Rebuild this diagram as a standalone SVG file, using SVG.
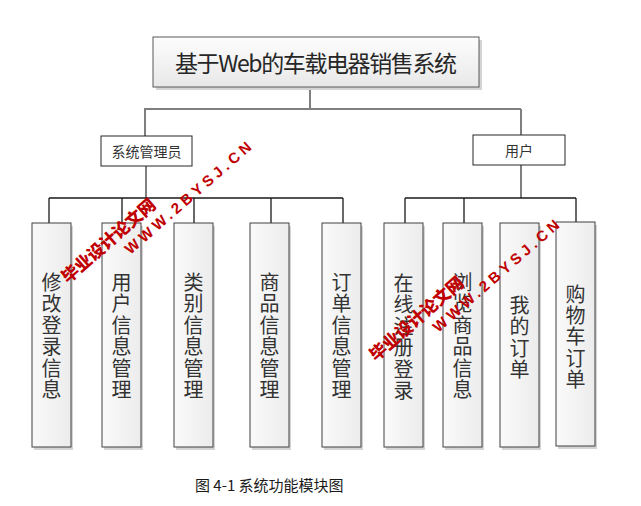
<svg xmlns="http://www.w3.org/2000/svg" width="641" height="506" viewBox="0 0 641 506">
<defs>
<linearGradient id="g" x1="0" y1="0" x2="0" y2="1">
<stop offset="0" stop-color="#fdfdfd"/>
<stop offset="1" stop-color="#e8e8e8"/>
</linearGradient>
<linearGradient id="gc" x1="0" y1="0" x2="1" y2="0">
<stop offset="0" stop-color="#fafafa"/>
<stop offset="1" stop-color="#ececec"/>
</linearGradient>
</defs>
<style>
.sh{fill:#d4d4d4}
.box{fill:url(#gc);stroke:#404040;stroke-width:1}
.tbox{fill:url(#g);stroke:#595959;stroke-width:1}
.mbox{fill:#ffffff;stroke:#262626;stroke-width:1}
.up{fill:none;stroke:#7f7f7f;stroke-width:2}
.lo{fill:none;stroke:#1a1a1a;stroke-width:1.3}
.vt{font-family:"Noto Sans CJK SC","Noto Sans",sans-serif;font-size:20px;fill:#333333;text-anchor:middle;dominant-baseline:central}
.mt{font-family:"Noto Sans CJK SC","Noto Sans",sans-serif;font-size:14px;fill:#333333;text-anchor:middle;dominant-baseline:central}
.wm1{font-family:"Noto Sans CJK SC","Liberation Sans",sans-serif;font-size:17px;font-weight:900;fill:#c00000}
.wm2{font-family:"Liberation Sans","Noto Sans CJK SC",sans-serif;font-size:15px;font-weight:bold;fill:#c00000}
</style>
<rect width="641" height="506" fill="#ffffff"/>

<g id="connectors">
<path class="up" d="M310 87V109M144 109H521M145 109V136M521 109V135M146 166V198M521 165V198"/>
<path class="lo" d="M49 198H343M49 198V223M122 198V223M194 198V223M271 198V223M343 198V223M405 198H576M405 198V223M464 198V223M576 198V222"/>
</g>

<g id="title">
<rect class="sh" x="156" y="40" width="326" height="50"/>
<rect class="tbox" x="153" y="37" width="326" height="50"/>
<text x="316" y="62" font-family="Noto Sans CJK SC,Noto Sans,sans-serif" font-size="23" fill="#262626" text-anchor="middle" dominant-baseline="central" textLength="282" lengthAdjust="spacing">基于Web的车载电器销售系统</text>
</g>

<g id="admin">
<rect class="mbox" x="101" y="136" width="91" height="30"/>
<text class="mt" x="146.5" y="151">系统管理员</text>
</g>
<g id="user">
<rect class="mbox" x="473" y="135" width="92" height="30"/>
<text class="mt" x="519" y="150">用户</text>
</g>

<g id="n1">
<rect class="sh" x="34" y="226" width="39" height="224"/>
<rect class="box" x="32" y="223" width="39" height="224"/>
<text class="vt"><tspan x="51.5" y="281">修</tspan><tspan x="51.5" y="302.4">改</tspan><tspan x="51.5" y="323.8">登</tspan><tspan x="51.5" y="345.2">录</tspan><tspan x="51.5" y="366.6">信</tspan><tspan x="51.5" y="388">息</tspan></text>
</g>
<g id="n2">
<rect class="sh" x="104" y="226" width="39" height="224"/>
<rect class="box" x="102" y="223" width="39" height="224"/>
<text class="vt"><tspan x="121.5" y="281">用</tspan><tspan x="121.5" y="302.4">户</tspan><tspan x="121.5" y="323.8">信</tspan><tspan x="121.5" y="345.2">息</tspan><tspan x="121.5" y="366.6">管</tspan><tspan x="121.5" y="388">理</tspan></text>
</g>
<g id="n3">
<rect class="sh" x="176" y="226" width="39" height="224"/>
<rect class="box" x="174" y="223" width="39" height="224"/>
<text class="vt"><tspan x="193.5" y="281">类</tspan><tspan x="193.5" y="302.4">别</tspan><tspan x="193.5" y="323.8">信</tspan><tspan x="193.5" y="345.2">息</tspan><tspan x="193.5" y="366.6">管</tspan><tspan x="193.5" y="388">理</tspan></text>
</g>
<g id="n4">
<rect class="sh" x="252" y="226" width="39" height="224"/>
<rect class="box" x="250" y="223" width="39" height="224"/>
<text class="vt"><tspan x="269.5" y="281">商</tspan><tspan x="269.5" y="302.4">品</tspan><tspan x="269.5" y="323.8">信</tspan><tspan x="269.5" y="345.2">息</tspan><tspan x="269.5" y="366.6">管</tspan><tspan x="269.5" y="388">理</tspan></text>
</g>
<g id="n5">
<rect class="sh" x="324" y="226" width="39" height="224"/>
<rect class="box" x="322" y="223" width="39" height="224"/>
<text class="vt"><tspan x="341.5" y="281">订</tspan><tspan x="341.5" y="302.4">单</tspan><tspan x="341.5" y="323.8">信</tspan><tspan x="341.5" y="345.2">息</tspan><tspan x="341.5" y="366.6">管</tspan><tspan x="341.5" y="388">理</tspan></text>
</g>
<g id="n6">
<rect class="sh" x="386" y="226" width="39" height="224"/>
<rect class="box" x="384" y="223" width="39" height="224"/>
<text class="vt"><tspan x="403.5" y="282">在</tspan><tspan x="403.5" y="303.4">线</tspan><tspan x="403.5" y="324.8">注</tspan><tspan x="403.5" y="346.2">册</tspan><tspan x="403.5" y="367.6">登</tspan><tspan x="403.5" y="389">录</tspan></text>
</g>
<g id="n7">
<rect class="sh" x="445" y="226" width="39" height="224"/>
<rect class="box" x="443" y="223" width="39" height="224"/>
<text class="vt"><tspan x="462.5" y="281">浏</tspan><tspan x="462.5" y="302.4">览</tspan><tspan x="462.5" y="323.8">商</tspan><tspan x="462.5" y="345.2">品</tspan><tspan x="462.5" y="366.6">信</tspan><tspan x="462.5" y="388">息</tspan></text>
</g>
<g id="n8">
<rect class="sh" x="502" y="226" width="39" height="224"/>
<rect class="box" x="500" y="223" width="39" height="224"/>
<text class="vt"><tspan x="519.5" y="304">我</tspan><tspan x="519.5" y="325.4">的</tspan><tspan x="519.5" y="346.8">订</tspan><tspan x="519.5" y="368.2">单</tspan></text>
</g>
<g id="n9">
<rect class="sh" x="558" y="225" width="39" height="224"/>
<rect class="box" x="556" y="222" width="39" height="224"/>
<text class="vt"><tspan x="575.5" y="292.5">购</tspan><tspan x="575.5" y="313.9">物</tspan><tspan x="575.5" y="335.3">车</tspan><tspan x="575.5" y="356.7">订</tspan><tspan x="575.5" y="378.1">单</tspan></text>
</g>

<g id="watermark1" transform="translate(68 284) rotate(-41)">
<text class="wm1" x="0" y="0" textLength="118" lengthAdjust="spacing">毕业设计论文网</text>
<text class="wm2" x="66" y="19" textLength="162" lengthAdjust="spacing">WWW.2BYSJ.CN</text>
</g>
<g id="watermark2" transform="translate(376 362) rotate(-41)">
<text class="wm1" x="0" y="0" textLength="118" lengthAdjust="spacing">毕业设计论文网</text>
<text class="wm2" x="66" y="19" textLength="162" lengthAdjust="spacing">WWW.2BYSJ.CN</text>
</g>

<g id="caption">
<text x="195" y="491" font-family="Noto Sans CJK SC,Noto Sans,sans-serif" font-size="15" fill="#1a1a1a">图 4-1 系统功能模块图</text>
</g>
</svg>
